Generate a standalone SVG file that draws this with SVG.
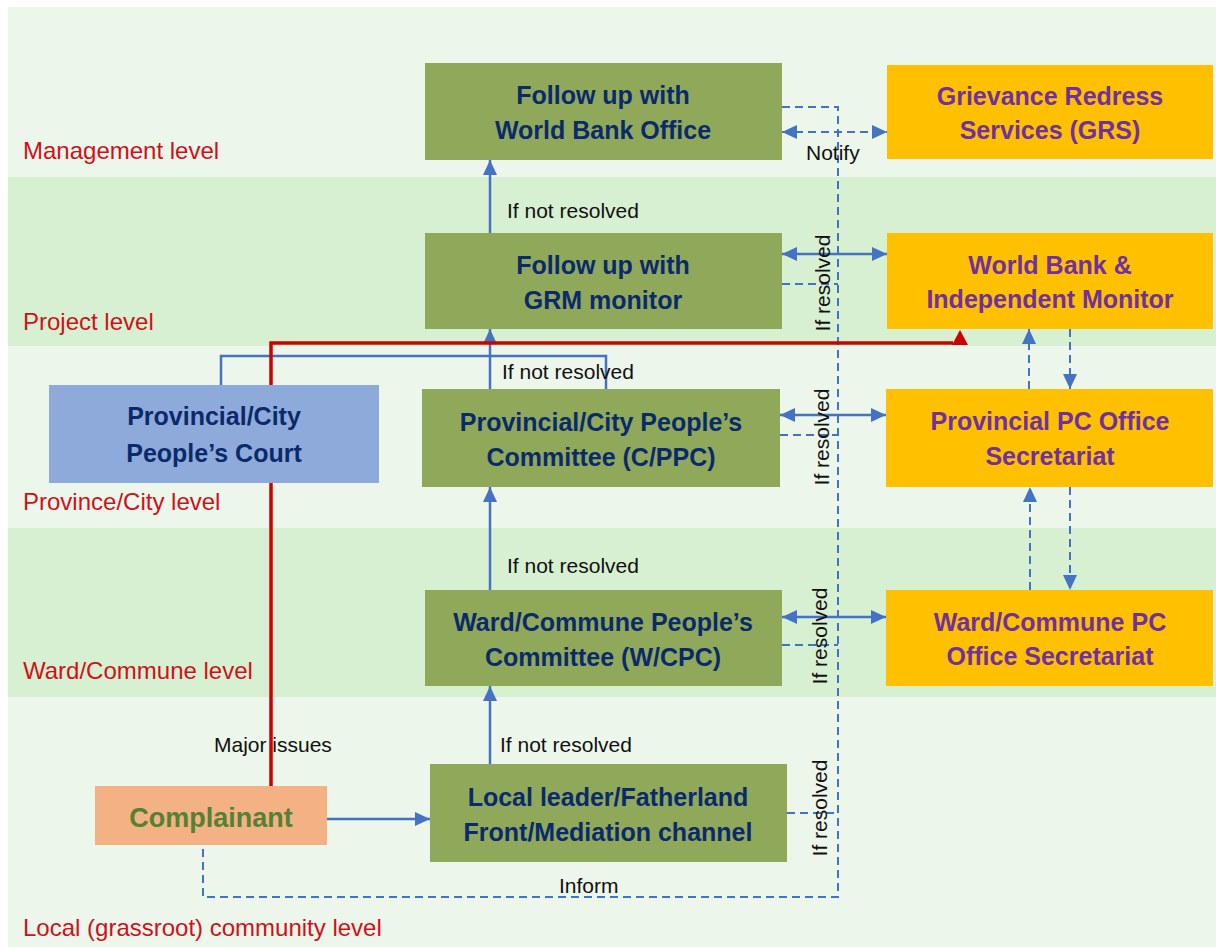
<svg xmlns="http://www.w3.org/2000/svg" width="1216" height="947" viewBox="0 0 1216 947">
<defs>
<style>
.bandL{fill:#EDF6EA}
.bandD{fill:#D8F0D2}
.lvl{font-family:"Liberation Sans",Arial,sans-serif;font-size:24px;fill:#D0101A}
.lbl{font-family:"Liberation Sans",Arial,sans-serif;font-size:21px;fill:#111}
.green{fill:#8FA85A}
.orange{fill:#FFC000}
.tN{font-family:"Liberation Sans",Arial,sans-serif;font-size:25px;font-weight:bold;fill:#0B2A6B;text-anchor:middle}
.tP{font-family:"Liberation Sans",Arial,sans-serif;font-size:25px;font-weight:bold;fill:#7030A0;text-anchor:middle}
.solid{fill:none;stroke:#4472C4;stroke-width:2.5}
.dash{fill:none;stroke:#4472C4;stroke-width:2;stroke-dasharray:8 5}
.red{fill:none;stroke:#D00000;stroke-width:3.5}
</style>
<marker id="ah" markerUnits="userSpaceOnUse" markerWidth="16" markerHeight="14" refX="15" refY="7" orient="auto-start-reverse">
<path d="M0,0 L15,7 L0,14 z" fill="#4472C4"/>
</marker>
</defs>
<rect x="0" y="0" width="1216" height="947" fill="#FFFFFF"/>
<g id="bands">
<rect class="bandL" x="8" y="7" width="1208" height="170"/>
<rect class="bandD" x="8" y="177" width="1208" height="169"/>
<rect class="bandL" x="8" y="346" width="1208" height="182"/>
<rect class="bandD" x="8" y="528" width="1208" height="169"/>
<rect class="bandL" x="8" y="697" width="1208" height="250"/>
<text class="lvl" x="23" y="159">Management level</text>
<text class="lvl" x="23" y="330">Project level</text>
<text class="lvl" x="23" y="510">Province/City level</text>
<text class="lvl" x="23" y="679">Ward/Commune level</text>
<text class="lvl" x="23" y="936">Local (grassroot) community level</text>
</g>
<g id="connectors">
<line class="solid" x1="490" y1="233" x2="490" y2="160" marker-end="url(#ah)"/>
<line class="solid" x1="490" y1="389" x2="490" y2="329" marker-end="url(#ah)"/>
<line class="solid" x1="490" y1="590" x2="490" y2="487" marker-end="url(#ah)"/>
<line class="solid" x1="490" y1="764" x2="490" y2="686" marker-end="url(#ah)"/>
<line class="solid" x1="327" y1="819" x2="430" y2="819" marker-end="url(#ah)"/>
<polyline class="solid" points="221,385 221,356 606,356 606,389"/>
<line class="dash" x1="782" y1="132" x2="887" y2="132" marker-start="url(#ah)" marker-end="url(#ah)"/>
<line class="solid" x1="782" y1="254" x2="887" y2="254" marker-start="url(#ah)" marker-end="url(#ah)"/>
<line class="solid" x1="780" y1="415" x2="886" y2="415" marker-start="url(#ah)" marker-end="url(#ah)"/>
<line class="solid" x1="782" y1="617" x2="886" y2="617" marker-start="url(#ah)" marker-end="url(#ah)"/>
<polyline class="dash" points="782,107 838,107 838,897 203,897 203,845"/>
<line class="dash" x1="782" y1="284" x2="838" y2="284"/>
<line class="dash" x1="780" y1="435" x2="838" y2="435"/>
<line class="dash" x1="782" y1="645" x2="838" y2="645"/>
<line class="dash" x1="787" y1="813" x2="838" y2="813"/>
<line class="dash" x1="1029" y1="389" x2="1029" y2="329" marker-end="url(#ah)"/>
<line class="dash" x1="1070" y1="329" x2="1070" y2="389" marker-end="url(#ah)"/>
<line class="dash" x1="1030" y1="590" x2="1030" y2="487" marker-end="url(#ah)"/>
<line class="dash" x1="1070" y1="487" x2="1070" y2="590" marker-end="url(#ah)"/>
<text class="lbl" x="507" y="218">If not resolved</text>
<text class="lbl" x="502" y="379">If not resolved</text>
<text class="lbl" x="507" y="573">If not resolved</text>
<text class="lbl" x="500" y="752">If not resolved</text>
<text class="lbl" x="806" y="160">Notify</text>
<text class="lbl" x="559" y="893">Inform</text>
<text class="lbl" text-anchor="middle" transform="translate(830,283) rotate(-90)">If resolved</text>
<text class="lbl" text-anchor="middle" transform="translate(829,437) rotate(-90)">If resolved</text>
<text class="lbl" text-anchor="middle" transform="translate(827,636) rotate(-90)">If resolved</text>
<text class="lbl" text-anchor="middle" transform="translate(827,808) rotate(-90)">If resolved</text>
<text class="lbl" x="214" y="752">Major issues</text>
<polyline class="red" points="271,786 271,343 953,343"/>
<polygon points="952,345 968,345 960,330" fill="#D00000"/>
</g>
<g id="n-wbo">
<rect class="green" x="425" y="63" width="357" height="97"/>
<text class="tN" x="603" y="104">Follow up with</text>
<text class="tN" x="603" y="139">World Bank Office</text>
</g>
<g id="n-grs">
<rect class="orange" x="887" y="65" width="326" height="94"/>
<text class="tP" x="1050" y="105">Grievance Redress</text>
<text class="tP" x="1050" y="139">Services (GRS)</text>
</g>
<g id="n-grm">
<rect class="green" x="425" y="233" width="357" height="96"/>
<text class="tN" x="603" y="274">Follow up with</text>
<text class="tN" x="603" y="309">GRM monitor</text>
</g>
<g id="n-wbim">
<rect class="orange" x="887" y="233" width="326" height="96"/>
<text class="tP" x="1050" y="274">World Bank &amp;</text>
<text class="tP" x="1050" y="308">Independent Monitor</text>
</g>
<g id="n-court">
<rect x="49" y="385" width="330" height="98" fill="#8EAADB"/>
<text class="tN" x="214" y="425">Provincial/City</text>
<text class="tN" x="214" y="462">People’s Court</text>
</g>
<g id="n-cppc">
<rect class="green" x="422" y="389" width="358" height="98"/>
<text class="tN" x="601" y="431">Provincial/City People’s</text>
<text class="tN" x="601" y="466">Committee (C/PPC)</text>
</g>
<g id="n-ppc">
<rect class="orange" x="886" y="389" width="327" height="98"/>
<text class="tP" x="1050" y="430">Provincial PC Office</text>
<text class="tP" x="1050" y="465">Secretariat</text>
</g>
<g id="n-wcpc">
<rect class="green" x="425" y="590" width="357" height="96"/>
<text class="tN" x="603" y="631">Ward/Commune People’s</text>
<text class="tN" x="603" y="666">Committee (W/CPC)</text>
</g>
<g id="n-wpc">
<rect class="orange" x="886" y="590" width="327" height="96"/>
<text class="tP" x="1050" y="631">Ward/Commune PC</text>
<text class="tP" x="1050" y="665">Office Secretariat</text>
</g>
<g id="n-local">
<rect class="green" x="430" y="764" width="357" height="98"/>
<text class="tN" x="608" y="806">Local leader/Fatherland</text>
<text class="tN" x="608" y="841">Front/Mediation channel</text>
</g>
<g id="n-complainant">
<rect x="95" y="786" width="232" height="59" fill="#F4B183"/>
<text x="211" y="827" text-anchor="middle" font-family="Liberation Sans, Arial, sans-serif" font-size="27" font-weight="bold" fill="#538135">Complainant</text>
</g>
</svg>
